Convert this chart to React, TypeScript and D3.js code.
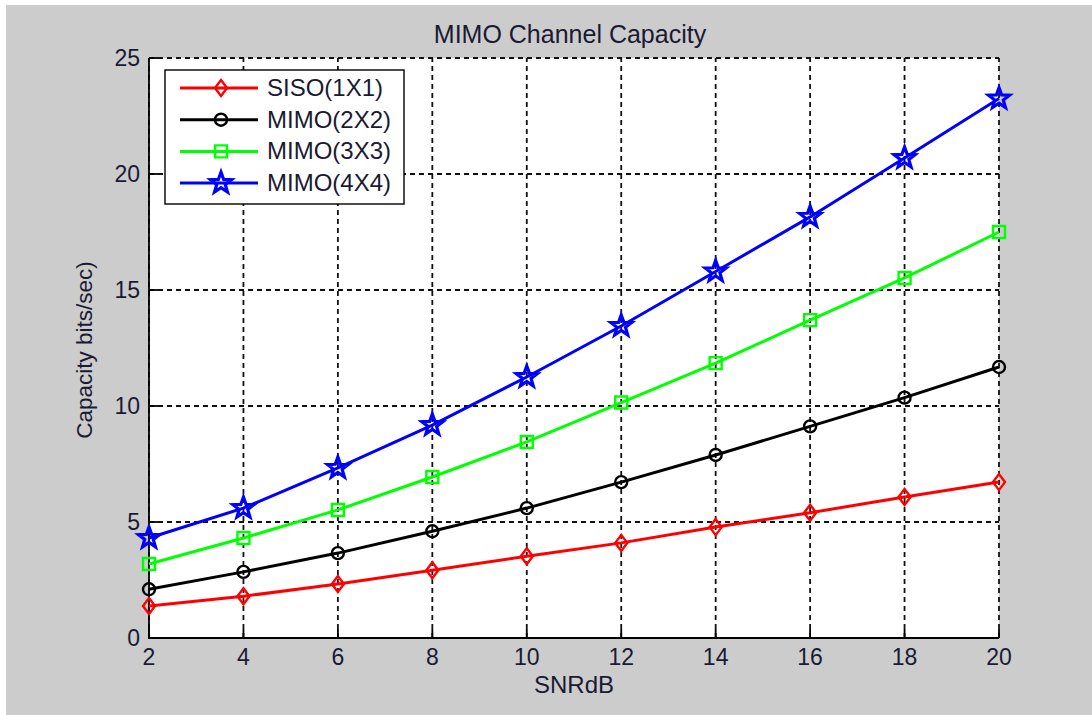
import React from 'react'
import * as d3 from 'd3'

const snr = [2, 4, 6, 8, 10, 12, 14, 16, 18, 20]
const siso = [1.38, 1.8, 2.33, 2.92, 3.52, 4.1, 4.78, 5.4, 6.08, 6.72]
const mimo2 = [2.1, 2.85, 3.66, 4.6, 5.6, 6.72, 7.89, 9.12, 10.36, 11.68]
const mimo3 = [3.19, 4.31, 5.52, 6.94, 8.45, 10.15, 11.85, 13.7, 15.52, 17.5]
const mimo4 = [4.31, 5.6, 7.33, 9.18, 11.25, 13.45, 15.8, 18.15, 20.69, 23.25]
const seriesNames = ['SISO(1X1)', 'MIMO(2X2)', 'MIMO(3X3)', 'MIMO(4X4)']
const seriesColors = ['#ff0000', '#000000', '#00ff00', '#0000ff']
const markers = ['diamond', 'circle', 'square', 'star']
const xTicks = [2, 4, 6, 8, 10, 12, 14, 16, 18, 20]
const yTicks = [0, 5, 10, 15, 20, 25]

const W = 1092
const H = 715
const font = '"Liberation Sans", Arial, sans-serif'

// marker path centred on 0,0
const markerPath = (kind: string) => {
    if (kind === 'diamond') return 'M0,-8L6,0L0,8L-6,0Z'
    if (kind === 'square') return 'M-6,-6H6V6H-6Z'
    if (kind === 'circle') return 'M-6,0A6,6 0 1,0 6,0A6,6 0 1,0 -6,0Z'
    // pentagram
    const pts: string[] = []
    for (let i = 0; i < 10; i++) {
        const r = i % 2 === 0 ? 11 : 4.5
        const a = -Math.PI / 2 + i * Math.PI / 5
        pts.push(`${(r * Math.cos(a)).toFixed(2)},${(r * Math.sin(a)).toFixed(2)}`)
    }
    return 'M' + pts.join('L') + 'Z'
}

const App = () => {
    const x = d3.scaleLinear().domain([2, 20]).range([149, 999])
    const y = d3.scaleLinear().domain([0, 25]).range([638, 58])
    const data = [siso, mimo2, mimo3, mimo4]
    const line = d3.line<number>().x((d, i) => x(snr[i])).y(d => y(d))

    return (
        <svg width={W} height={H} style={{ position: 'absolute', left: 0, top: 0 }} fontFamily={font}>
            <rect x={0} y={0} width={W} height={H} fill='#ffffff' />
            <rect x={6} y={5} width={W - 6} height={H - 5} fill='#cccccc' />
            <rect x={x(2)} y={y(25)} width={x(20) - x(2)} height={y(0) - y(25)} fill='#ffffff' />

            {/* grid */}
            <g stroke='#111' strokeWidth={1.8} strokeDasharray='5,4'>
                {xTicks.map(t => <line key={'gx' + t} x1={x(t)} x2={x(t)} y1={y(0)} y2={y(25)} />)}
                {yTicks.map(t => <line key={'gy' + t} x1={x(2)} x2={x(20)} y1={y(t)} y2={y(t)} />)}
            </g>

            {/* axes */}
            <g stroke='#000' strokeWidth={1.8}>
                <line x1={x(2)} x2={x(2)} y1={y(0) + 1} y2={y(25)} />
                <line x1={x(2)} x2={x(20)} y1={y(0)} y2={y(0)} />
                {xTicks.map(t => <line key={'tx' + t} x1={x(t)} x2={x(t)} y1={y(0)} y2={y(0) - 9} />)}
                {yTicks.map(t => <line key={'ty' + t} x1={x(2)} x2={x(2) + 9} y1={y(t)} y2={y(t)} />)}
            </g>
            <g fontSize={23} fill='#1a1a33'>
                {xTicks.map(t => <text key={'lx' + t} x={x(t)} y={665} textAnchor='middle'>{t}</text>)}
                {yTicks.map(t => <text key={'ly' + t} x={140} y={y(t) + 8} textAnchor='end'>{t}</text>)}
            </g>

            {/* series */}
            {data.map((vals, si) => (
                <g key={'s' + si}>
                    <path d={line(vals) || ''} fill='none' stroke={seriesColors[si]} strokeWidth={3} />
                    {vals.map((v, i) => (
                        <path key={i} d={markerPath(markers[si])} transform={`translate(${x(snr[i])},${y(v)})`}
                            fill='none' stroke={seriesColors[si]} strokeWidth={si === 3 ? 3.2 : 2.4} />
                    ))}
                </g>
            ))}

            {/* legend */}
            <g>
                <rect x={165} y={70} width={239} height={134} fill='#ffffff' stroke='#000' strokeWidth={1.4} />
                {seriesNames.map((n, i) => {
                    const ly = 88 + i * 31.7
                    return (
                        <g key={n}>
                            <line x1={180} x2={258} y1={ly} y2={ly} stroke={seriesColors[i]} strokeWidth={3} />
                            <path d={markerPath(markers[i])} transform={`translate(221,${ly})`} fill='none'
                                stroke={seriesColors[i]} strokeWidth={i === 3 ? 3.2 : 2.4} />
                            <text x={267} y={ly + 8} fontSize={24} fill='#1a1a33'>{n}</text>
                        </g>
                    )
                })}
            </g>

            <text x={570} y={43} fontSize={25} textAnchor='middle' fill='#1a1a33'>MIMO Channel Capacity</text>
            <text x={574} y={693} fontSize={24} textAnchor='middle' fill='#1a1a33'>SNRdB</text>
            <text transform='translate(92,350) rotate(-90)' fontSize={22.5} textAnchor='middle' fill='#1a1a33'>Capacity bits/sec)</text>
        </svg>
    )
}

export default App
